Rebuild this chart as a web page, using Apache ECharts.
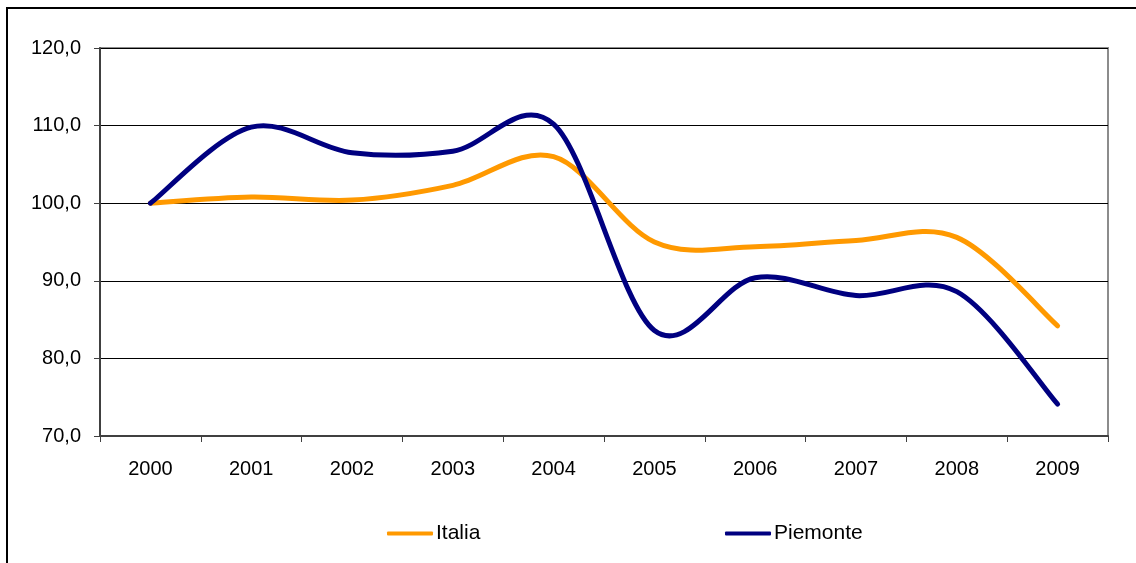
<!DOCTYPE html>
<html>
<head>
<meta charset="utf-8">
<script src="https://cdn.jsdelivr.net/npm/echarts@6/dist/echarts.min.js"></script>
<style>
    html, body { margin: 0; padding: 0; background: #fff; }
    #mychart { width: 1136px; height: 563px; }
</style>
</head>
<body>
<div id="mychart"></div>
<script>
// data
const years = ['2000', '2001', '2002', '2003', '2004', '2005', '2006', '2007', '2008', '2009']
const italia = [100.0, 100.8, 100.4, 102.3, 106.0, 95.0, 94.4, 95.2, 95.6, 84.2]
const piemonte = [100.0, 109.8, 106.5, 106.7, 110.2, 83.6, 90.4, 88.1, 88.6, 74.1]
const yTicks = { min: 70, max: 120, interval: 10 }

let myChart = echarts.init(document.getElementById('mychart'))

const font = 'Liberation Sans, Arial, sans-serif'

// excel-like smoothed line (catmull-rom through the points), placed with api.coord
function smoothLine(values, color) {
    return function (params, api) {
        if (params.dataIndex !== 0) return null
        let p = values.map((v, i) => api.coord([i, v]))
        let n = p.length
        let d = 'M' + p[0][0] + ',' + p[0][1]
        for (let i = 0; i < n - 1; i++) {
            let p0 = p[Math.max(i - 1, 0)]
            let p1 = p[i]
            let p2 = p[i + 1]
            let p3 = p[Math.min(i + 2, n - 1)]
            let c1x = p1[0] + (p2[0] - p0[0]) / 6
            let c1y = p1[1] + (p2[1] - p0[1]) / 6
            let c2x = p2[0] - (p3[0] - p1[0]) / 6
            let c2y = p2[1] - (p3[1] - p1[1]) / 6
            d += ' C' + c1x + ',' + c1y + ' ' + c2x + ',' + c2y + ' ' + p2[0] + ',' + p2[1]
        }
        return {
            type: 'path',
            shape: { pathData: d },
            style: { fill: 'none', stroke: color, lineWidth: 5, lineCap: 'round', lineJoin: 'round' }
        }
    }
}

let option = {
    animation: false,
    backgroundColor: '#fff',
    graphic: [{
        type: 'rect',
        shape: { x: 7, y: 8, width: 1200, height: 700 },
        style: { fill: 'none', stroke: '#000', lineWidth: 2 },
        silent: true
    }],
    grid: {
        left: 100, right: 28, top: 48, bottom: 127,
        show: true, borderColor: '#8c8c8c', borderWidth: 2
    },
    legend: [{
        data: ['Italia'],
        left: 387, top: 523, padding: 0,
        icon: 'roundRect', itemWidth: 46, itemHeight: 4, itemGap: 4,
        textStyle: { fontFamily: font, fontSize: 21, color: '#000', padding: [0, 0, 0, -2] }
    }, {
        data: ['Piemonte'],
        left: 725, top: 523, padding: 0,
        icon: 'roundRect', itemWidth: 46, itemHeight: 4, itemGap: 4,
        textStyle: { fontFamily: font, fontSize: 21, color: '#000', padding: [0, 0, 0, -2] }
    }],
    xAxis: {
        type: 'category',
        data: years,
        boundaryGap: true,
        axisLine: { lineStyle: { color: '#404040', width: 2 } },
        axisTick: { show: true, length: 6, interval: 0, lineStyle: { color: '#404040', width: 1 } },
        axisLabel: { fontFamily: font, fontSize: 20, color: '#000', margin: 23 },
        splitLine: { show: false }
    },
    yAxis: {
        type: 'value',
        min: yTicks.min, max: yTicks.max, interval: yTicks.interval,
        axisLine: { show: true, lineStyle: { color: '#404040', width: 2 } },
        axisTick: { show: true, length: 6, lineStyle: { color: '#404040', width: 1 } },
        axisLabel: {
            fontFamily: font, fontSize: 20, color: '#000', margin: 19,
            formatter: v => v.toFixed(1).replace('.', ',')
        },
        splitLine: { lineStyle: { color: '#000', width: 1 } }
    },
    series: [{
        name: 'Italia',
        type: 'custom',
        data: italia.map((v, i) => [i, v]),
        renderItem: smoothLine(italia, '#ff9900'),
        itemStyle: { color: '#ff9900' },
        z: 3
    }, {
        name: 'Piemonte',
        type: 'custom',
        data: piemonte.map((v, i) => [i, v]),
        renderItem: smoothLine(piemonte, '#000080'),
        itemStyle: { color: '#000080' },
        z: 4
    }]
}
myChart.setOption(option)
</script>
</body>
</html>
